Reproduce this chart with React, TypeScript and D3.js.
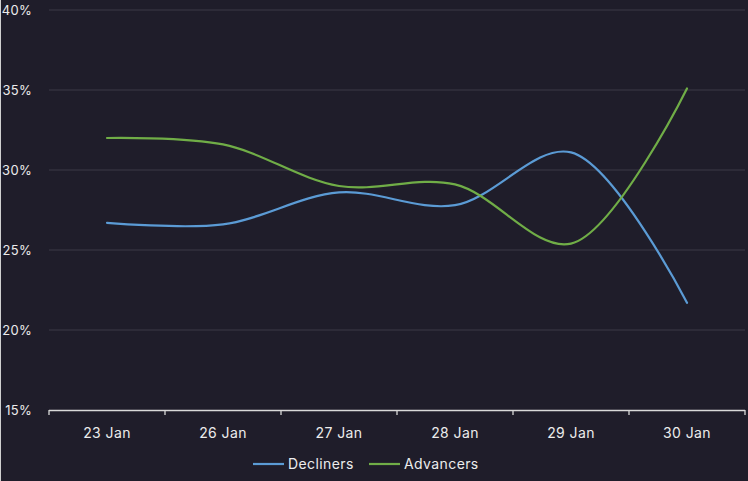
import React, { useEffect, useRef } from 'react';
import * as d3 from 'd3';

const categories = ['23 Jan', '26 Jan', '27 Jan', '28 Jan', '29 Jan', '30 Jan'];
const decliners = [26.7, 26.6, 28.6, 27.8, 31.1, 21.7];
const advancers = [32.0, 31.6, 29.0, 29.1, 25.4, 35.1];
const yTicks = [15, 20, 25, 30, 35, 40];

const W = 748;
const H = 481;

const App = () => {
  const svgRef = useRef<SVGSVGElement>(null);

  useEffect(() => {
    const svg = d3.select(svgRef.current);
    svg.selectAll('*').remove();

    const left = 49;
    const right = 745;
    const top = 10;
    const bottom = 410;
    const font = 'Inter, "Open Sans", sans-serif';

    // background
    svg.append('rect').attr('width', W).attr('height', H).attr('fill', '#1f1d2a');
    svg.append('rect').attr('width', 1).attr('height', H).attr('fill', '#d0d0d0');

    const x = d3.scaleBand().domain(categories).range([left, right]);
    const y = d3.scaleLinear().domain([15, 40]).range([bottom, top]);

    // gridlines
    svg
      .append('g')
      .selectAll('line')
      .data(yTicks.filter((t) => t > 15))
      .join('line')
      .attr('x1', left)
      .attr('x2', right)
      .attr('y1', (d) => y(d))
      .attr('y2', (d) => y(d))
      .attr('stroke', '#3c3b46')
      .attr('stroke-width', 1);

    // y labels
    svg
      .append('g')
      .selectAll('text')
      .data(yTicks)
      .join('text')
      .attr('x', 32)
      .attr('y', (d) => y(d))
      .attr('dy', '0.35em')
      .attr('text-anchor', 'end')
      .attr('fill', '#ececec')
      .style('font-family', font)
      .style('font-size', '13px')
      .style('letter-spacing', '0.3px')
      .text((d) => d + '%');

    // x axis
    const xAxis = svg.append('g');
    xAxis
      .append('line')
      .attr('x1', left)
      .attr('x2', right)
      .attr('y1', bottom + 0.5)
      .attr('y2', bottom + 0.5)
      .attr('stroke', '#d9d9d9')
      .attr('stroke-width', 1.3);
    const tickPos = categories.map((c) => x(c) as number).concat([right]);
    xAxis
      .selectAll('line.tick')
      .data(tickPos)
      .join('line')
      .attr('class', 'tick')
      .attr('x1', (d) => d)
      .attr('x2', (d) => d)
      .attr('y1', bottom)
      .attr('y2', bottom + 5)
      .attr('stroke', '#d9d9d9')
      .attr('stroke-width', 1.3);
    xAxis
      .selectAll('text')
      .data(categories)
      .join('text')
      .attr('x', (d) => (x(d) as number) + x.bandwidth() / 2)
      .attr('y', 433)
      .attr('dy', '0.35em')
      .attr('text-anchor', 'middle')
      .attr('fill', '#ececec')
      .style('font-family', font)
      .style('font-size', '14px')
      .style('letter-spacing', '0.4px')
      .text((d) => d);

    // lines
    const line = d3
      .line<number>()
      .x((d, i) => (x(categories[i]) as number) + x.bandwidth() / 2)
      .y((d) => y(d))
      .curve(d3.curveCatmullRom.alpha(0.5));

    const series = [
      { name: 'Decliners', values: decliners, color: '#5b9bd5' },
      { name: 'Advancers', values: advancers, color: '#70ad47' }
    ];

    svg
      .append('g')
      .selectAll('path')
      .data(series)
      .join('path')
      .attr('d', (d) => line(d.values))
      .attr('fill', 'none')
      .attr('stroke', (d) => d.color)
      .attr('stroke-width', 2.2)
      .attr('stroke-linecap', 'round');

    // legend
    const legendX = [253, 369];
    const lg = svg
      .append('g')
      .selectAll('g')
      .data(series)
      .join('g')
      .attr('transform', (d, i) => `translate(${legendX[i]},464)`);
    lg.append('line')
      .attr('x1', 0)
      .attr('x2', 31)
      .attr('stroke', (d) => d.color)
      .attr('stroke-width', 2.2);
    lg.append('text')
      .attr('x', 35)
      .attr('dy', '0.35em')
      .attr('fill', '#ececec')
      .style('font-family', font)
      .style('font-size', '14px')
      .style('letter-spacing', '0.4px')
      .text((d) => d.name);
  }, []);

  return (
    <div style={{ position: 'fixed', left: 0, top: 0, width: W, height: H }}>
      <svg ref={svgRef} width={W} height={H} style={{ display: 'block' }}></svg>
    </div>
  );
};

export default App;
